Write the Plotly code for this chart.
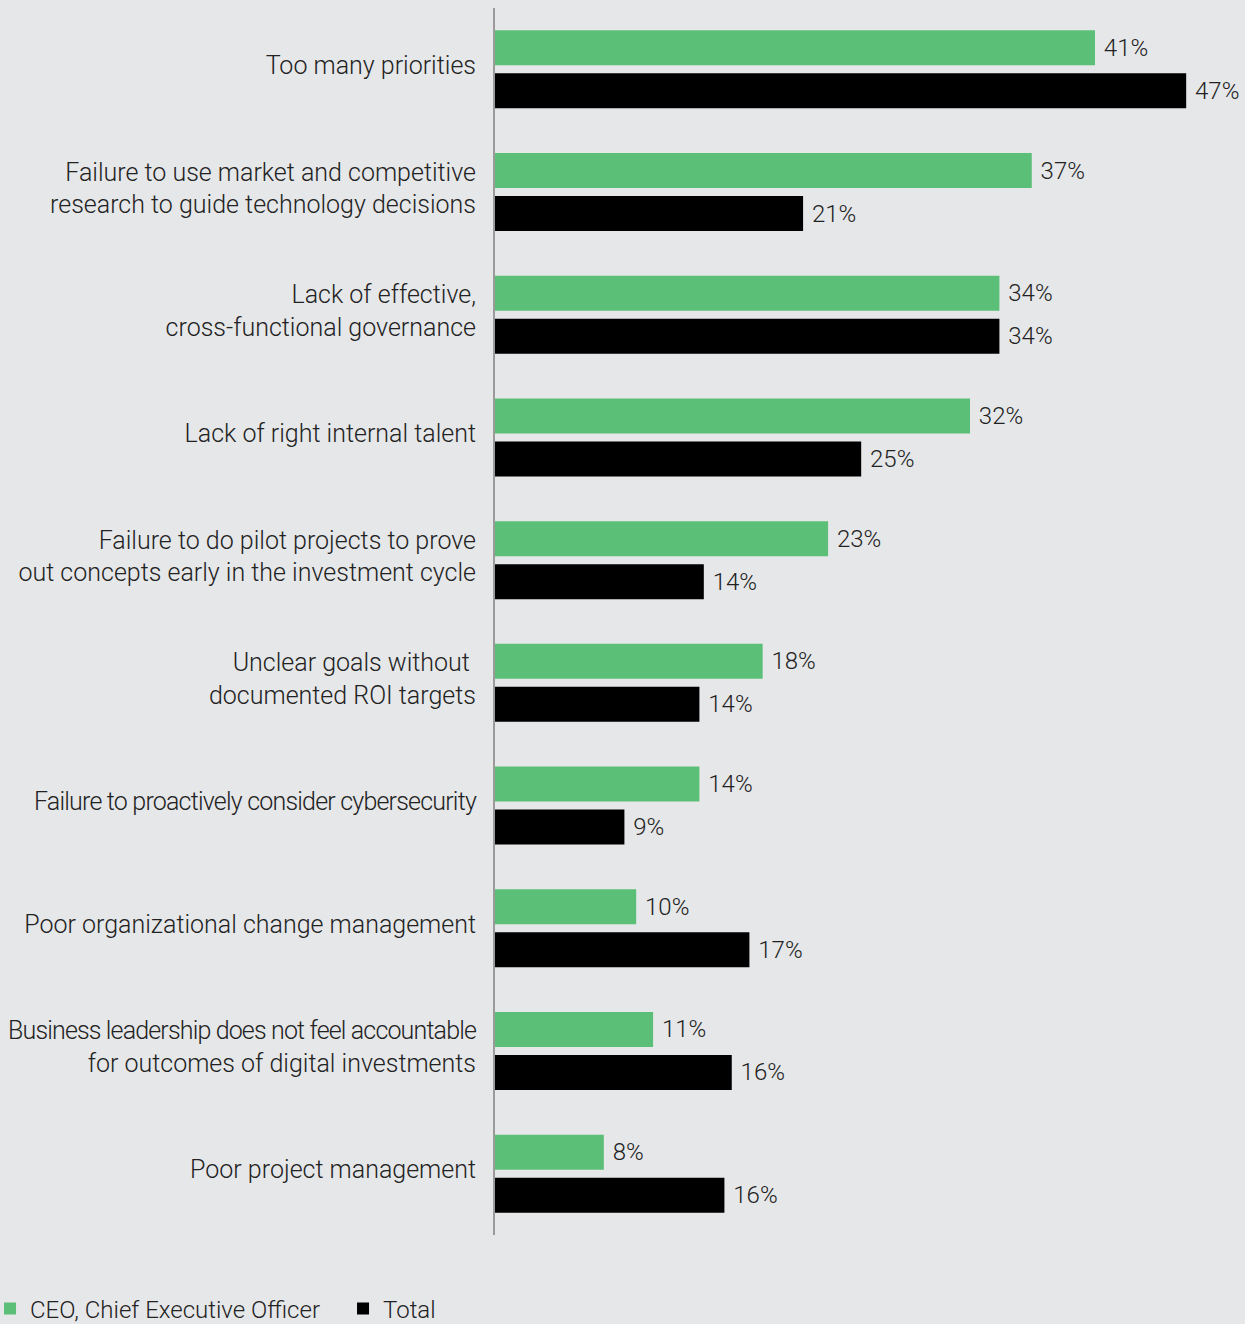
import plotly.graph_objects as go

categories = [
    "Too many priorities",
    "Failure to use market and competitive<br>research to guide technology decisions",
    "Lack of effective,<br>cross-functional governance",
    "Lack of right internal talent",
    "Failure to do pilot projects to prove<br>out concepts early in the investment cycle",
    "Unclear goals without <br>documented ROI targets",
    "<span style=\"letter-spacing:-0.8px\">Failure to proactively consider cybersecurity</span>",
    "Poor organizational change management",
    "<span style=\"letter-spacing:-0.85px\">Business leadership does not feel accountable</span><br>for outcomes of digital investments",
    "Poor project management",
]
ceo_values = [40.8, 36.5, 34.3, 32.3, 22.65, 18.2, 13.9, 9.6, 10.75, 7.4]
total_values = [47.0, 20.95, 34.3, 24.9, 14.2, 13.9, 8.8, 17.3, 16.1, 15.6]
ceo_labels = ["41%", "37%", "34%", "32%", "23%", "18%", "14%", "10%", "11%", "8%"]
total_labels = ["47%", "21%", "34%", "25%", "14%", "14%", "9%", "17%", "16%", "16%"]

FONT = "Roboto"
TXT = "#222222"
pad = "\u00a0"

fig = go.Figure()
fig.add_trace(go.Bar(
    name="CEO, Chief Executive Officer", y=categories, x=ceo_values, orientation="h",
    marker=dict(color="#5cbf78", line=dict(width=0)),
    text=[pad + t for t in ceo_labels], textposition="outside", constraintext="none",
    cliponaxis=False, textfont=dict(family=FONT, size=24, color=TXT, weight=300),
    hoverinfo="skip",
))
fig.add_trace(go.Bar(
    name="Total", y=categories, x=total_values, orientation="h",
    marker=dict(color="#000000", line=dict(width=0)),
    text=[pad + t for t in total_labels], textposition="outside", constraintext="none",
    cliponaxis=False, textfont=dict(family=FONT, size=24, color=TXT, weight=300),
    hoverinfo="skip",
))

fig.update_layout(
    width=1245, height=1324,
    margin=dict(l=495, r=0, t=8, b=89, autoexpand=False),
    paper_bgcolor="#e6e7e9", plot_bgcolor="#e6e7e9",
    barmode="group", bargap=0.299, bargroupgap=0.186,
    font=dict(family=FONT, size=24, color=TXT, weight=300),
    showlegend=True,
    legend=dict(
        orientation="h", x=-0.6733, xanchor="left", y=-0.0603, yanchor="middle",
        font=dict(family=FONT, size=24, color=TXT, weight=300),
        entrywidth=308, entrywidthmode="pixels", bgcolor="rgba(0,0,0,0)",
    ),
    xaxis=dict(range=[0, 51], visible=False, showgrid=False, zeroline=False, fixedrange=True),
    yaxis=dict(
        autorange="reversed", showline=True, linecolor="#9a9a9a", linewidth=2,
        showgrid=False, ticks="", ticklabelstandoff=12, ticklabelshift=4,
        tickfont=dict(family=FONT, size=25, color=TXT, weight=300), fixedrange=True,
    ),
)

fig.write_html("out.html")
